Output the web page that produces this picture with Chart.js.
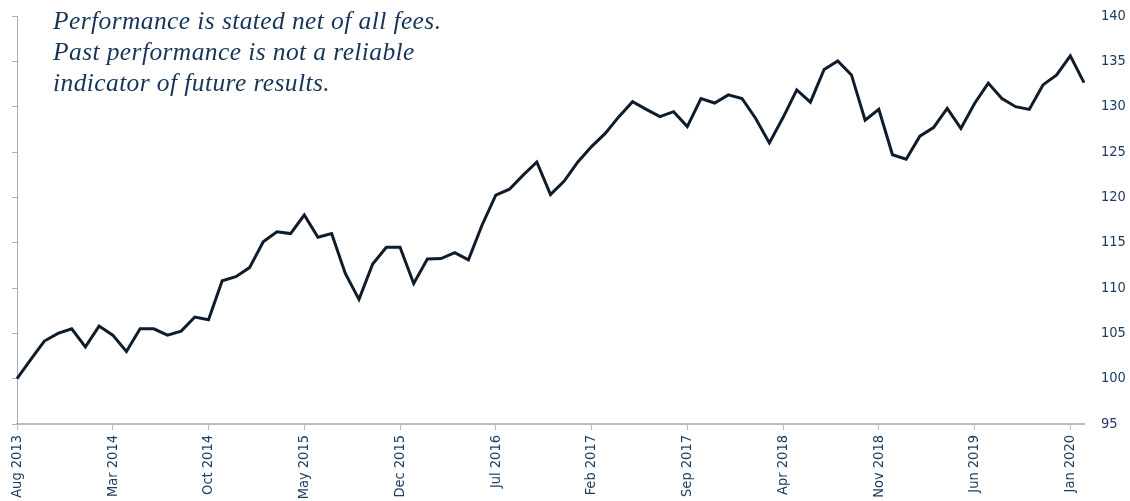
<!DOCTYPE html>
<html>
<head>
<meta charset="utf-8">
<script src="https://cdn.jsdelivr.net/npm/chart.js@4/dist/chart.umd.min.js"></script>
<style>
  html, body { margin: 0; padding: 0; background: #ffffff; }
  #wrap { position: relative; width: 1130px; height: 501px; }
  #c { position: absolute; left: 0; top: 0; }
  #note {
    position: absolute; left: 53px; top: 5px;
    font-family: "Liberation Serif", serif; font-style: italic;
    font-size: 25.5px; letter-spacing: 0.4px; line-height: 31px; color: #17345a;
    white-space: nowrap;
  }
</style>
</head>
<body>
<div id="wrap">
  <canvas id="c" width="1130" height="501"></canvas>
  <div id="note">Performance is stated net of all fees.<br>Past performance is not a reliable<br>indicator of future results.</div>
</div>
<script>
const months = ["Jan","Feb","Mar","Apr","May","Jun","Jul","Aug","Sep","Oct","Nov","Dec"];
const categories = [];
for (let y = 2013, m = 7; categories.length < 79; m++) {
  if (m === 12) { m = 0; y++; }
  categories.push(months[m] + " " + y);
}
const performance = [
  100.0, 102.1, 104.15, 105.0, 105.5, 103.5, 105.8, 104.8, 103.0, 105.5,
  105.5, 104.8, 105.25, 106.8, 106.5, 110.8, 111.25, 112.25, 115.1, 116.2,
  116.0, 118.05, 115.6, 116.0, 111.6, 108.75, 112.65, 114.5, 114.5, 110.5,
  113.2, 113.25, 113.9, 113.1, 116.95, 120.25, 120.9, 122.45, 123.9, 120.3,
  121.8, 123.9, 125.6, 127.05, 128.9, 130.55, 129.7, 128.9, 129.45, 127.8,
  130.9, 130.4, 131.3, 130.9, 128.7, 126.0, 128.8, 131.85, 130.5, 134.1,
  135.05, 133.5, 128.5, 129.7, 124.7, 124.2, 126.75, 127.7, 129.8, 127.6,
  130.35, 132.6, 130.9, 130.0, 129.7, 132.4, 133.5, 135.6, 132.65
];
const yTicks = [95, 100, 105, 110, 115, 120, 125, 130, 135, 140];
const labelEvery = 7;

const navy = "#1f3d63";
const axisGray = "#b9bec4";
const tickFont = { family: "'DejaVu Sans Condensed', 'DejaVu Sans'", size: 14.5 };

new Chart(document.getElementById("c"), {
  type: "line",
  data: {
    labels: categories,
    datasets: [{
      data: performance,
      borderColor: "#0e1c2b",
      borderWidth: 3,
      pointRadius: 0,
      tension: 0,
      fill: false
    }]
  },
  options: {
    responsive: false,
    animation: false,
    layout: { padding: { left: 12, right: 0, top: 16, bottom: 0 } },
    plugins: { legend: { display: false }, tooltip: { enabled: false } },
    scales: {
      x: {
        type: "category",
        offset: false,
        grid: {
          display: true,
          drawOnChartArea: false,
          drawTicks: true,
          tickLength: 6,
          color: (ctx) => (ctx.index % labelEvery === 0 ? axisGray : "rgba(0,0,0,0)")
        },
        border: { display: true, color: axisGray, width: 2 },
        ticks: {
          autoSkip: false,
          maxRotation: 90,
          minRotation: 90,
          padding: 5,
          color: navy,
          font: tickFont,
          callback: (v, i) => (i % labelEvery === 0 ? categories[i] : "")
        },
        afterFit: (s) => { s.height = 77; }
      },
      y: {
        position: "right",
        min: yTicks[0],
        max: yTicks[yTicks.length - 1],
        afterBuildTicks: (s) => { s.ticks = yTicks.map(v => ({ value: v })); },
        grid: { display: false, drawTicks: false },
        border: { display: false },
        ticks: {
          padding: 17,
          color: navy,
          font: tickFont
        },
        afterFit: (s) => { s.width = 46; s.paddingTop = 0; s.paddingBottom = 0; }
      },
      yl: {
        position: "left",
        min: yTicks[0],
        max: yTicks[yTicks.length - 1],
        afterBuildTicks: (s) => { s.ticks = yTicks.map(v => ({ value: v })); },
        grid: { display: true, drawOnChartArea: false, drawTicks: true, tickLength: 5, color: "#a9aeb4" },
        border: { display: true, color: "#a9aeb4", width: 1 },
        ticks: { display: false }
      }
    }
  }
});
</script>
</body>
</html>
